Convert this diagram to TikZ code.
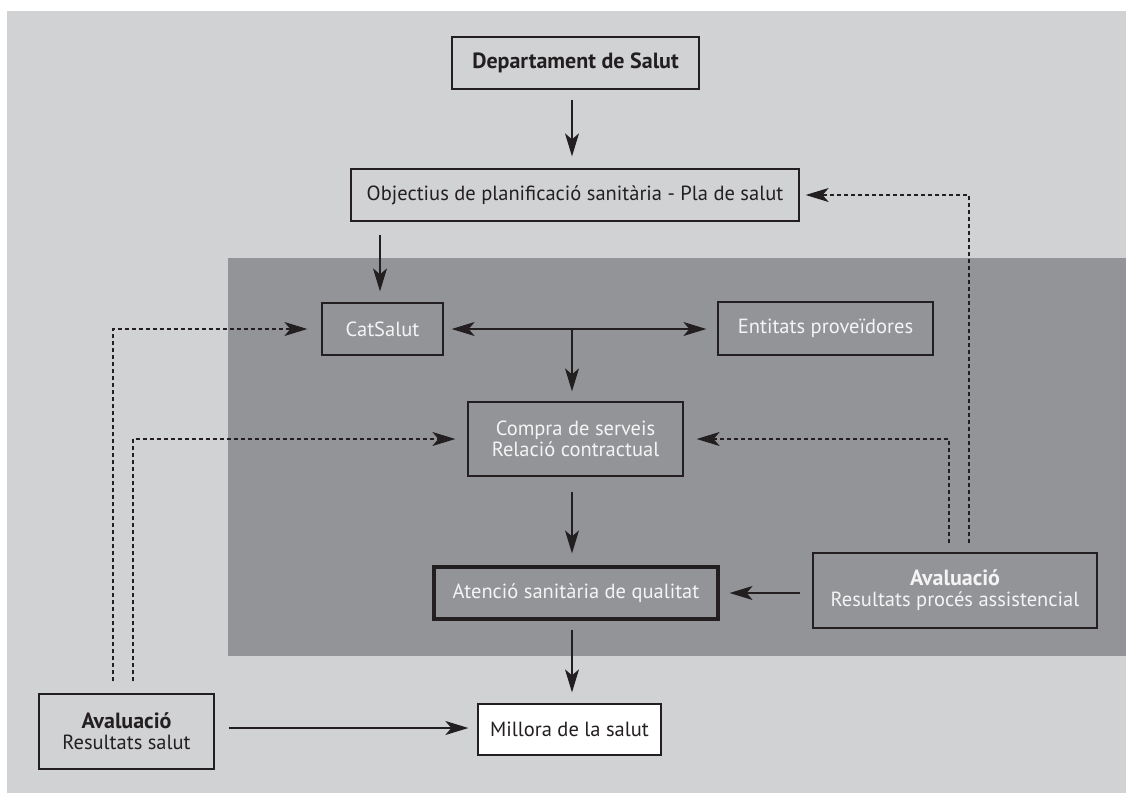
\documentclass[tikz,border=0pt]{standalone}
\usepackage{fontspec}
\setmainfont{PT Sans}
\usetikzlibrary{arrows.meta}
\definecolor{lightbg}{HTML}{D1D2D4}
\definecolor{darkbg}{HTML}{939498}
\definecolor{ink}{HTML}{231F20}
\definecolor{paper}{HTML}{F4F4F4}
\newcommand{\bt}[1]{{\fontsize{22}{22}\selectfont\bfseries #1}}
\begin{document}
\begin{tikzpicture}[x=1pt,y=-1pt,
  box/.style={draw=ink,line width=1.3pt,minimum height=52pt,inner sep=0pt,align=center,font=\fontsize{20.5}{21}\selectfont,text=ink,fill=lightbg},
  dbox/.style={box,fill=darkbg,text=paper},
  arr/.style={draw=ink,line width=1.1pt,-{Stealth[length=23pt,width=14pt,inset=6pt]}},
  arrtwo/.style={draw=ink,line width=1.1pt,{Stealth[length=23pt,width=14pt,inset=6pt]}-{Stealth[length=23pt,width=14pt,inset=6pt]}},
  darr/.style={draw=ink,line width=1.1pt,dash pattern=on 4pt off 3pt,-{Stealth[length=23pt,width=14pt,inset=6pt]}}
]
\useasboundingbox (0,0) rectangle (1126,793);
\fill[white] (0,0) rectangle (1126,793);
\fill[lightbg] (7,11) rectangle (1126,793);
\fill[darkbg] (228,258) rectangle (1126,656);

\coordinate (sp) at (572,0);
\coordinate (dla) at (113,0);
\coordinate (dlb) at (133,0);
\coordinate (dra) at (949,0);
\coordinate (drb) at (969,0);

\node[box,minimum width=247pt] (dep) at (575.5,63) {\bt{Departament de Salut}};
\node[box,minimum width=448pt] (obj) at (575,195) {Objectius de planificació sanitària - Pla de salut};
\node[dbox,minimum width=121pt] (cat) at (382.5,329) {CatSalut};
\node[dbox,minimum width=215pt,minimum height=53pt] (ent) at (825.5,328.5) {Entitats proveïdores};
\node[dbox,minimum width=215pt,minimum height=74pt] (comp) at (575.5,439) {Compra de serveis\\Relació contractual};
\node[dbox,minimum width=284pt,minimum height=52pt,line width=3.2pt] (aten) at (576,593) {Atenció sanitària de qualitat};
\node[dbox,minimum width=284pt,minimum height=75pt] (avr) at (955,590.5) {\bt{Avaluació}\\Resultats procés assistencial};
\node[box,fill=white,minimum width=183pt,minimum height=51pt] (mil) at (569.5,729.5) {Millora de la salut};
\node[box,minimum width=175pt,minimum height=75pt] (avl) at (126.5,731.5) {\bt{Avaluació}\\Resultats salut};

% solid arrows
\draw[arr,shorten <=10pt,shorten >=12pt] (dep.south -| sp) -- (obj.north -| sp);
\draw[arr,shorten <=13pt,shorten >=11pt] (obj.south -| cat.north) ++(-2.5,0) coordinate (oc) -- (oc |- cat.north);
\draw[arrtwo,shorten <=8pt,shorten >=11pt] (cat.east) -- (cat.east -| ent.west);
\draw[arr,shorten >=10pt] (cat.east -| sp) -- (comp.north -| sp);
\draw[arr,shorten <=15pt,shorten >=12pt] (comp.south -| sp) -- (aten.north -| sp);
\draw[arr,shorten <=9pt,shorten >=11pt] (aten.south -| sp) -- (mil.north -| sp);
\draw[arr,shorten <=12pt,shorten >=10pt] (avr.west |- aten.east) -- (aten.east);
\draw[arr,shorten <=14pt,shorten >=9pt] (avl.east |- mil.west) ++(0,-1.5) coordinate (al) -- (al -| mil.west);

% dashed feedback arrows
\draw[darr,shorten <=12pt,shorten >=14pt] (avl.north -| dla) |- (cat.west);
\draw[darr,shorten <=12pt,shorten >=12pt] (avl.north -| dlb) |- (comp.west);
\draw[darr,shorten <=9pt,shorten >=13pt] (avr.north -| dra) |- (comp.east);
\draw[darr,shorten <=9pt,shorten >=6pt] (avr.north -| drb) |- (obj.east);
\end{tikzpicture}
\end{document}
